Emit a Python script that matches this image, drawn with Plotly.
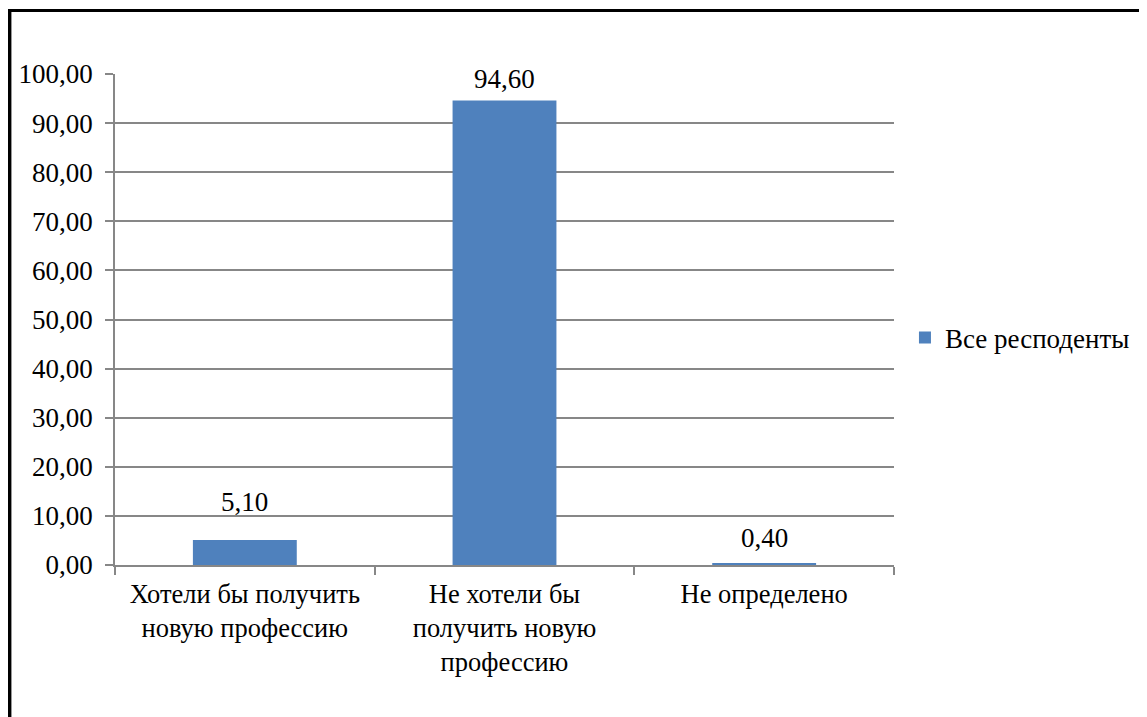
import plotly.graph_objects as go

categories = [
    "Хотели бы получить<br>новую профессию",
    "Не хотели бы<br>получить новую<br>профессию",
    "Не определено",
]
values = [5.10, 94.60, 0.40]
value_labels = ["5,10", "94,60", "0,40"]
series_name = "Все респоденты"
y_tick_values = [0, 10, 20, 30, 40, 50, 60, 70, 80, 90, 100]

OFF = 8  # page body margin
W, H = 1147 - OFF, 717 - OFF
L, R, T, B = 115 - OFF, 897 - OFF, 74 - OFF, 565 - OFF
FONT = "Liberation Serif, Times New Roman, serif"
FS = 27
GRAY = "#878787"
BAR = "#4F81BD"
label_shifts = [21, 5, 8]  # pixel offsets of the data labels above bars

def px_x(p):
    return (p - OFF - L) / (R - L)

def px_y(p):
    return (B - (p - OFF)) / (B - T)

fig = go.Figure()
fig.add_trace(go.Bar(
    x=categories, y=values, name=series_name, marker_color=BAR,
    marker_line_width=0, width=0.4, showlegend=True,
))

for c, v, t, s in zip(categories, values, value_labels, label_shifts):
    fig.add_annotation(x=c, y=v, text=t, showarrow=False, yanchor="bottom",
                       yshift=s, font=dict(family=FONT, size=FS, color="black"))

# outer frame (top and left edges)
fig.add_shape(type="line", xref="paper", yref="paper",
              x0=px_x(8.5), x1=px_x(8.5), y0=px_y(9), y1=px_y(730),
              line=dict(color="black", width=5))
fig.add_shape(type="line", xref="paper", yref="paper",
              x0=px_x(6), x1=px_x(1160), y0=px_y(10.5), y1=px_y(10.5),
              line=dict(color="black", width=3))

fig.update_layout(
    width=W, height=H,
    margin=dict(l=L, r=W - R, t=T, b=H - B, pad=0),
    paper_bgcolor="white", plot_bgcolor="white",
    separators=", ",
    font=dict(family=FONT, size=FS, color="black"),
    legend=dict(x=px_x(908), xanchor="left", y=px_y(338), yanchor="middle",
                font=dict(family=FONT, size=FS, color="black"),
                bgcolor="rgba(0,0,0,0)"),
    xaxis=dict(
        showline=True, linecolor=GRAY, linewidth=1.5,
        ticks="outside", tickson="boundaries", ticklen=8, tickcolor=GRAY, tickwidth=1.5,
        showgrid=False, tickfont=dict(family=FONT, size=26.5, color="black"),
        ticklabelstandoff=4,
    ),
    yaxis=dict(
        range=[0, 100], tickvals=y_tick_values, tickformat=".2f",
        showline=True, linecolor=GRAY, linewidth=1.5,
        ticks="outside", ticklen=8, tickcolor=GRAY, tickwidth=1.5,
        showgrid=True, gridcolor=GRAY, gridwidth=1.5, zeroline=False,
        tickfont=dict(family=FONT, size=FS, color="black"),
        ticklabelstandoff=7,
    ),
)

fig.write_html("out.html")
